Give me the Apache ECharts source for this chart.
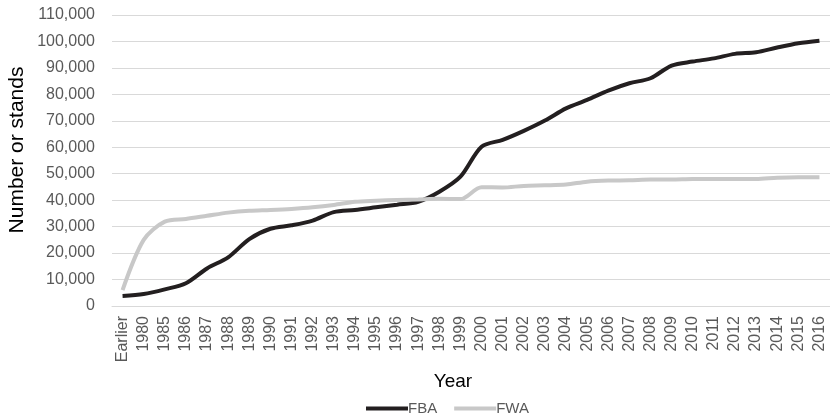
<!DOCTYPE html>
<html><head><meta charset="utf-8">
<script src="https://cdn.jsdelivr.net/npm/echarts@6/dist/echarts.min.js"></script>
<style>html,body{margin:0;padding:0;background:#fff}#c{width:830px;height:419px}</style>
</head><body><div id="c"></div>
<script>
const categories = ['Earlier','1980','1985','1986','1987','1988','1989','1990','1991','1992','1993','1994','1995','1996','1997','1998','1999','2000','2001','2002','2003','2004','2005','2006','2007','2008','2009','2010','2011','2012','2013','2014','2015','2016'];
const fba = [3800,4500,6300,8600,14200,18400,25300,29200,30500,32300,35500,36300,37300,38300,39400,43200,48900,60200,62800,66200,70100,74700,77900,81400,84200,86100,90900,92400,93600,95300,95900,97700,99300,100300];
const fwa = [6000,25000,31900,32900,34100,35300,36000,36300,36700,37300,38200,39400,39800,40100,40300,40500,40400,44900,44800,45400,45600,45900,47000,47400,47500,47800,47800,48000,48000,48000,48000,48500,48700,48700];
const yTicks = {min:0, max:110000, interval:10000};
const FONT = 'Liberation Sans, Arial, sans-serif';

const chart = echarts.init(document.getElementById('c'));
chart.setOption({
  animation:false,
  grid:{left:112, right:-6, top:15, bottom:113, containLabel:false},
  xAxis:{type:'category', data:categories, boundaryGap:true,
    axisLine:{show:true, lineStyle:{color:'#d9d9d9', width:1}},
    axisTick:{show:false},
    axisLabel:{rotate:90, color:'#595959', fontSize:16, fontFamily:FONT, margin:10, interval:0}},
  yAxis:{type:'value', min:yTicks.min, max:yTicks.max, interval:yTicks.interval,
    axisLine:{show:false}, axisTick:{show:false},
    splitLine:{lineStyle:{color:'#d9d9d9', width:1}},
    axisLabel:{color:'#595959', fontSize:16, fontFamily:FONT, margin:17,
      formatter:v=>v.toLocaleString('en-US')}},
  legend:{left:366, top:401, padding:0, itemGap:17, itemWidth:42, itemHeight:4, icon:'rect',
    textStyle:{color:'#595959', fontSize:15, fontFamily:FONT, padding:[0,0,0,-5]},
    data:['FBA','FWA']},
  graphic:[
    {type:'text', x:17, y:150, rotation:Math.PI/2, style:{text:'Number or stands', fill:'#000', fontSize:21, fontFamily:FONT, align:'center', verticalAlign:'middle'}},
    {type:'text', x:453, y:382, style:{text:'Year', fill:'#000', fontSize:19, fontFamily:FONT, align:'center', verticalAlign:'middle'}}],
  series:[
    {name:'FBA', type:'line', data:fba, smooth:0.3, symbol:'none', lineStyle:{color:'#231f20', width:4}, itemStyle:{color:'#231f20'}},
    {name:'FWA', type:'line', data:fwa, smooth:0.3, symbol:'none', lineStyle:{color:'#c8c8c8', width:4}, itemStyle:{color:'#c8c8c8'}}
  ]
});
</script></body></html>
